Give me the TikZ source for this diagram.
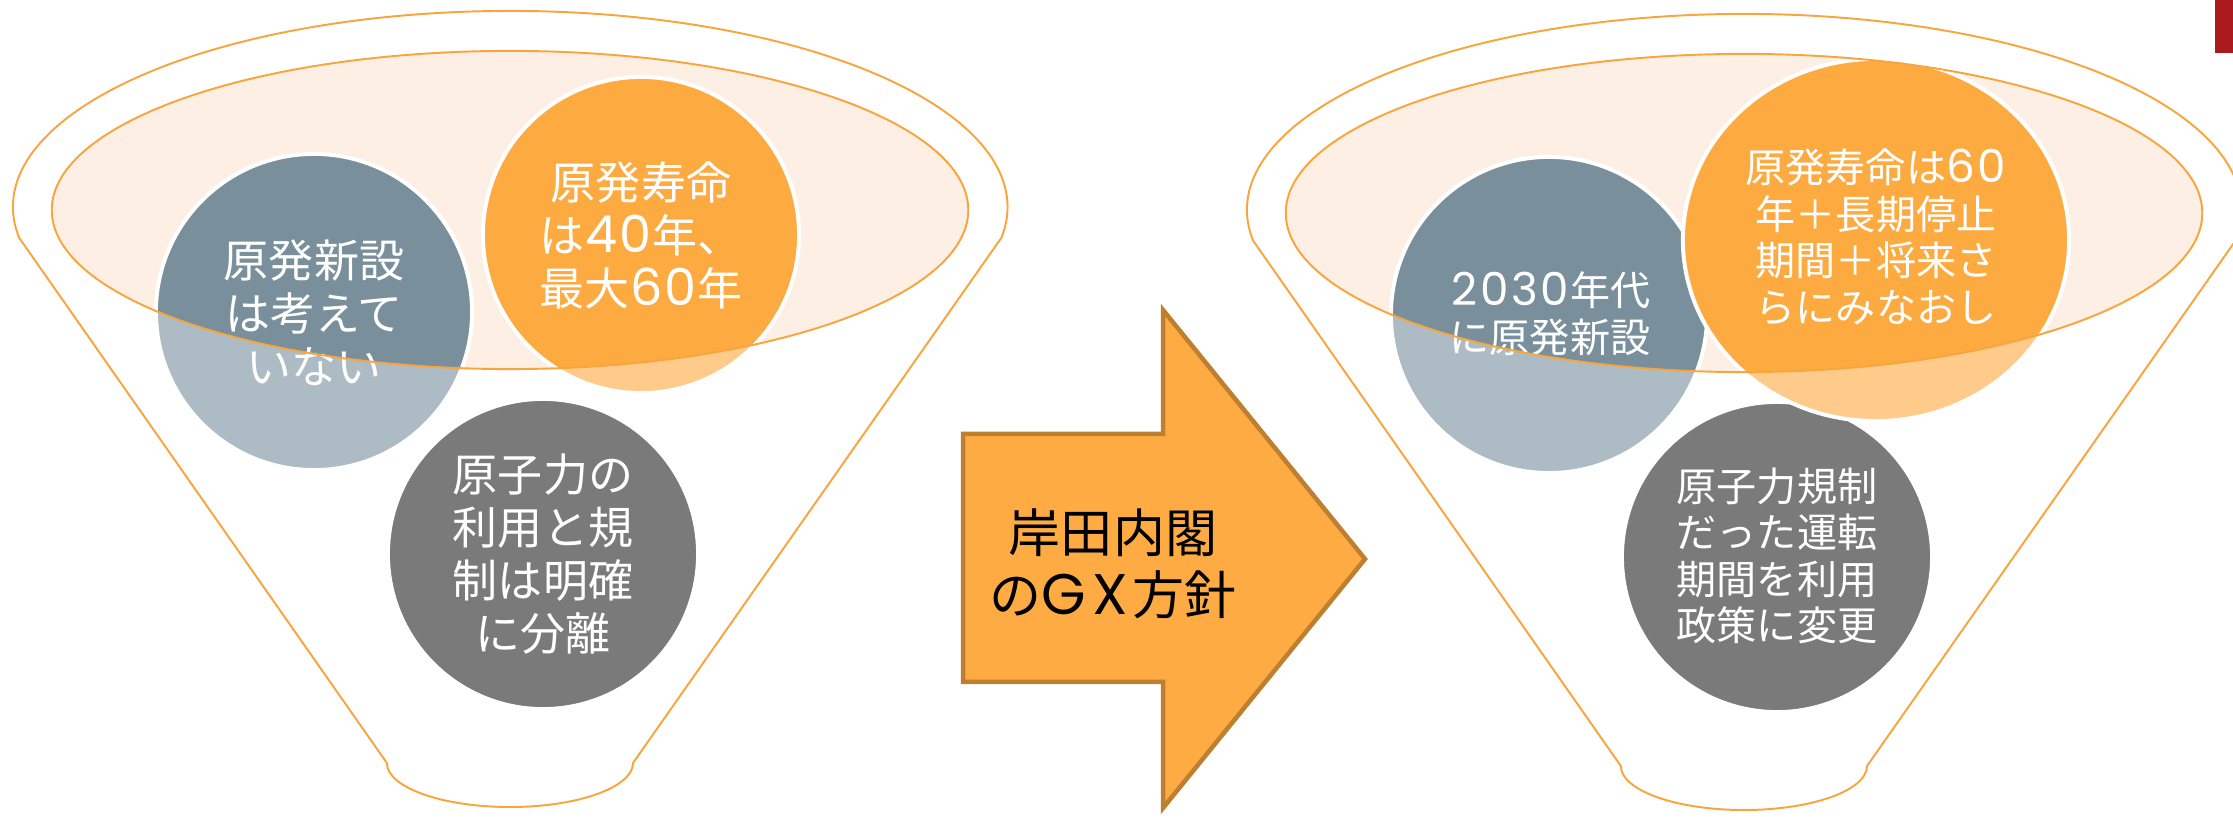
\documentclass[tikz,border=0pt]{standalone}
\usepackage{fontspec}
\newfontfamily\jpf{Noto Sans CJK JP}
\newfontfamily\latf{Poppins}
\newcommand\dg[1]{\makebox[0.75em]{\scalebox{1.13}{\latf #1}}}
\newcommand\lw[1]{\makebox[0.88em]{\scalebox{1.1}{\latf #1}}}
\definecolor{funor}{HTML}{F9A53E}
\definecolor{peach}{HTML}{FDEFE4}
\definecolor{orA}{HTML}{FDAB41}
\definecolor{orB}{HTML}{FECB8B}
\definecolor{blA}{HTML}{798F9B}
\definecolor{blB}{HTML}{ADBCC4}
\definecolor{gyA}{HTML}{7A7A7A}
\definecolor{arrfill}{HTML}{FDAB42}
\definecolor{arrdraw}{HTML}{BE7F30}
\definecolor{redbox}{HTML}{AA1A1F}
\tikzset{
  funline/.style={draw=funor, line width=0.55pt},
  wborder/.style={draw=white, line width=0.04cm},
  bigtext/.style={text=white, align=center, inner sep=0pt, font=\jpf\fontsize{12.8}{15.1}\selectfont},
  smalltext/.style={text=white, align=center, inner sep=0pt, font=\jpf\fontsize{11.4}{13.2}\selectfont},
  arrtext/.style={text=black, align=center, inner sep=0pt, font=\jpf\fontsize{14.8}{17.8}\selectfont},
  innerell/.style={x radius=4.58cm, y radius=1.59cm},
}
\begin{document}
\begin{tikzpicture}[x=0.01cm,y=-0.01cm]
\useasboundingbox (0,0) rectangle (2233,822);
\clip (0,0) rectangle (2233,822);

% ---------- left funnel ----------
\begin{scope}
  \coordinate (Lc) at (510,210);
  \coordinate (L1) at (314,312);
  \coordinate (L2) at (641,235);
  \coordinate (L3) at (543,554);
  \draw[funline, fill=white] (19.1,237.7) arc[start angle=189, end angle=-9, x radius=4.97cm, y radius=1.96cm]
     -- (633,763) arc[start angle=0, end angle=-180, x radius=1.23cm, y radius=0.44cm] -- cycle;
  \fill[peach] (Lc) ellipse[innerell];
  \fill[blB] (L1) circle[radius=1.58cm];
  \fill[orB] (L2) circle[radius=1.58cm];
  \begin{scope}
    \clip (Lc) ellipse[innerell];
    \fill[blA] (L1) circle[radius=1.58cm];
    \fill[orA] (L2) circle[radius=1.58cm];
  \end{scope}
  \draw[wborder] (L1) circle[radius=1.58cm];
  \draw[wborder] (L2) circle[radius=1.58cm];
  \draw[wborder, fill=gyA] (L3) circle[radius=1.55cm];
  \node[bigtext] (lt1) at (314,313) {原発新設\\は考えて\\いない};
  \node[bigtext] (lt2) at (641,235) {原発寿命\\は\dg{4}\dg{0}年、\\最大\dg{6}\dg{0}年};
  \node[bigtext] (lt3) at (543,554) {原子力の\\利用と規\\制は明確\\に分離};
  \draw[funline] (Lc) ellipse[innerell];
\end{scope}

% ---------- arrow ----------
\coordinate (a1) at (963,434);
\coordinate (a2) at (1163,434);
\coordinate (a3) at (1163,310);
\coordinate (a4) at (1365,559);
\coordinate (a5) at (1163,808);
\coordinate (a6) at (1163,682);
\coordinate (a7) at (963,682);
\draw[draw=arrdraw, fill=arrfill, line width=0.045cm, line join=miter]
  (a1) -- (a2) -- (a3) -- (a4) -- (a5) -- (a6) -- (a7) -- cycle;
\node[arrtext] (gx) at (1113,564) {岸田内閣\\の\lw{G}\lw{X}方針};

% ---------- right funnel ----------
\begin{scope}[shift={(1234,3)}]
  \coordinate (Rc) at (510,210);
  \coordinate (R1) at (315,312);
  \coordinate (R2) at (642,237);
  \coordinate (R3) at (543,554);
  \draw[funline, fill=white] (19.1,237.7) arc[start angle=189, end angle=-9, x radius=4.97cm, y radius=1.96cm]
     -- (633,763) arc[start angle=0, end angle=-180, x radius=1.23cm, y radius=0.44cm] -- cycle;
  \fill[peach] (Rc) ellipse[innerell];
  \draw[wborder, fill=gyA] (R3) circle[radius=1.55cm];
  \fill[blB] (R1) circle[radius=1.58cm];
  \begin{scope}
    \clip (Rc) ellipse[innerell];
    \fill[blA] (R1) circle[radius=1.58cm];
  \end{scope}
  \draw[wborder] (R1) circle[radius=1.58cm];
  \fill[orB] (R2) ellipse[x radius=1.93cm, y radius=1.81cm];
  \begin{scope}
    \clip (Rc) ellipse[innerell];
    \fill[orA] (R2) ellipse[x radius=1.93cm, y radius=1.81cm];
  \end{scope}
  \draw[wborder] (R2) ellipse[x radius=1.93cm, y radius=1.81cm];
  \node[smalltext] (rt1) at (316,311) {\dg{2}\dg{0}\dg{3}\dg{0}年代\\に原発新設};
  \node[smalltext] (rt2) at (642,234) {原発寿命は\dg{6}\dg{0}\\年＋長期停止\\期間＋将来さ\\らにみなおし};
  \node[smalltext] (rt3) at (543,553) {原子力規制\\だった運転\\期間を利用\\政策に変更};
  \draw[funline] (Rc) ellipse[innerell];
\end{scope}

% ---------- red corner mark ----------
\fill[redbox] (2215,0) rectangle (2233,53);
\end{tikzpicture}
\end{document}
